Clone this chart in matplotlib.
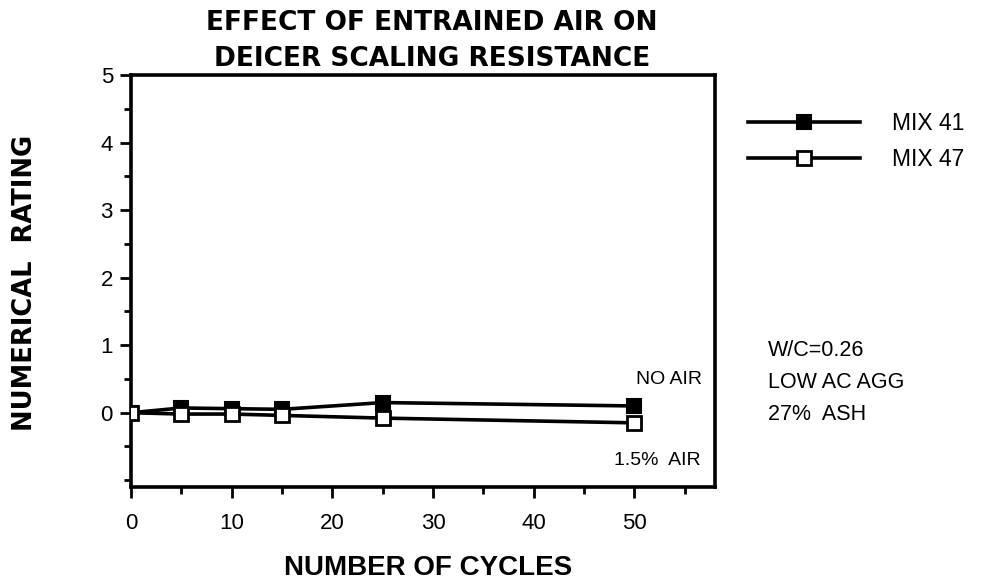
import matplotlib
matplotlib.use("Agg")
import matplotlib.pyplot as plt
from matplotlib.ticker import MultipleLocator

plt.rcParams['font.family'] = ['Liberation Sans', 'DejaVu Sans']

cycles = [0, 5, 10, 15, 25, 50]
mix41 = [0.0, 0.07, 0.06, 0.05, 0.15, 0.10]
mix47 = [0.0, -0.02, -0.02, -0.04, -0.08, -0.15]
series_labels = ["MIX 41", "MIX 47"]
x_ticks = [0, 10, 20, 30, 40, 50]
y_ticks = [0, 1, 2, 3, 4, 5]
title = "EFFECT OF ENTRAINED AIR ON\nDEICER SCALING RESISTANCE"
notes = ["W/C=0.26", "LOW AC AGG", "27%  ASH"]

fig = plt.figure(figsize=(9.81, 5.86), dpi=100)
ax = fig.add_axes([131/981, 1-487/586, (715-131)/981, (487-75)/586])

ax.plot(cycles, mix41, color='black', lw=2.6, marker='s', ms=9.5,
        mfc='black', mec='black', mew=1.5, label=series_labels[0], zorder=3)
ax.plot(cycles, mix47, color='black', lw=2.6, marker='s', ms=9.5,
        mfc='white', mec='black', mew=2, label=series_labels[1], zorder=4)

ax.set_xlim(0, 58)
ax.set_ylim(-1.1, 5)
ax.set_xticks(x_ticks)
ax.set_yticks(y_ticks)
ax.xaxis.set_minor_locator(MultipleLocator(5))
ax.yaxis.set_minor_locator(MultipleLocator(0.5))
ax.tick_params(axis='both', which='major', direction='out', length=8, width=2,
               labelsize=16)
ax.tick_params(axis='x', which='major', pad=11)
ax.tick_params(axis='y', which='major', pad=5)
ax.tick_params(axis='both', which='minor', direction='out', length=5, width=2)
for s in ax.spines.values():
    s.set_linewidth(2.6)

fig.text(432/981, 1-41/586, title, fontsize=19, fontweight='bold',
         family=['DejaVu Sans'], ha='center', va='center', linespacing=1.45)
fig.text(428/981, 1-568/586, "NUMBER OF CYCLES", fontsize=20, fontweight='bold',
         ha='center', va='center')
fig.text(25/981, 1-283/586, "NUMERICAL  RATING", fontsize=18.5, fontweight='bold',
         family=['DejaVu Sans'], rotation=90, ha='center', va='center')

ax.text(53.4, 0.49, "NO AIR", fontsize=14, ha='center', va='center')
ax.text(52.3, -0.71, "1.5%  AIR", fontsize=14, ha='center', va='center')

for i, t in enumerate(notes):
    fig.text(768/981, 1 - (350 + 32*i)/586, t, fontsize=15.5, ha='left', va='center')

ax.legend(loc='upper left', bbox_to_anchor=(748/981, 1-112/586),
          bbox_transform=fig.transFigure, frameon=False, fontsize=16.5,
          handlelength=4.9, handletextpad=1.4, borderpad=0, labelspacing=0.55,
          borderaxespad=0)

fig.savefig("out.png", dpi=100)
